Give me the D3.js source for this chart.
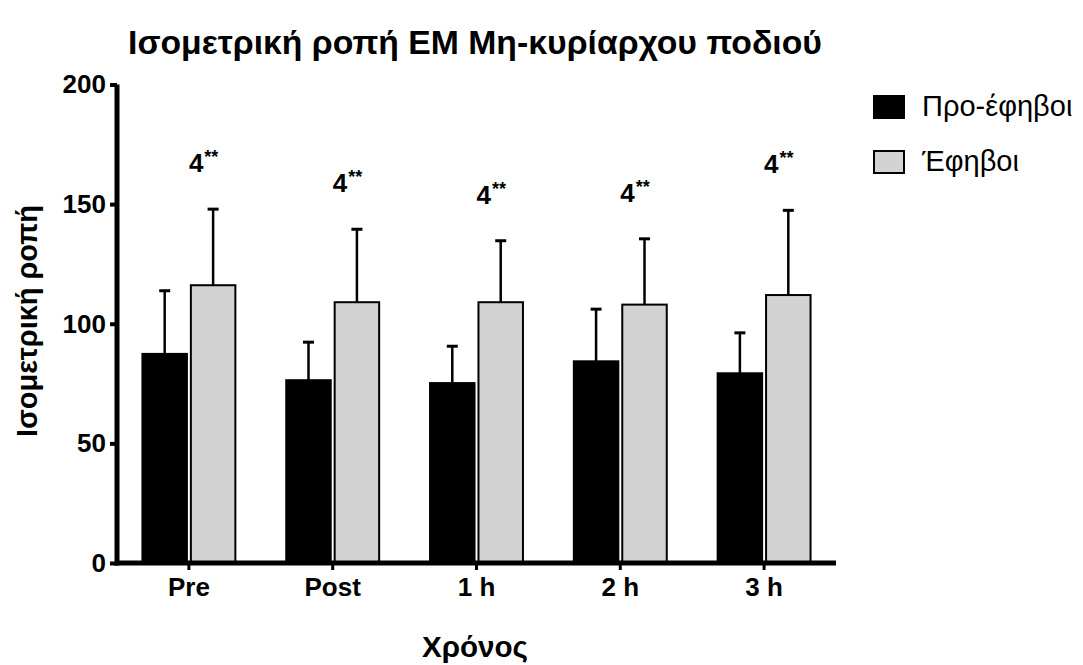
<!DOCTYPE html>
<html>
<head>
<meta charset="utf-8">
<script src="https://cdn.jsdelivr.net/npm/d3@7"></script>
<style>
  body { margin: 0; background: #fff; }
  text { font-family: "Liberation Sans", Arial, sans-serif; }
</style>
</head>
<body>
<svg width="1083" height="665"></svg>
<script>
// chart data
var categories = ["Pre", "Post", "1 h", "2 h", "3 h"];
var seriesNames = ["Προ-έφηβοι", "Έφηβοι"];
var preMeans = [87.4, 76.4, 75.2, 84.3, 79.3];
var preErrors = [26.4, 15.9, 15.4, 21.8, 16.9];
var adoMeans = [116.1, 109.0, 109.0, 108.0, 112.0];
var adoErrors = [31.8, 30.5, 25.7, 27.5, 35.4];
var annotations = ["4", "4", "4", "4", "4"];
var annotationStars = ["**", "**", "**", "**", "**"];
var yTicks = [0, 50, 100, 150, 200];

var titleText = "Ισομετρική ροπή ΕΜ Μη-κυρίαρχου ποδιού";
var yLabelText = "Ισομετρική ροπή";
var xLabelText = "Χρόνος";

let svg = d3.select("svg");
let width = parseInt(svg.attr("width"));
let height = parseInt(svg.attr("height"));

var colors = ["#000000", "#d3d3d3"];

// scales
var x0 = d3.scaleBand()
    .domain(categories)
    .range([117, 836])
    .paddingInner(0.34)
    .paddingOuter(0.17);

var x1 = d3.scaleBand()
    .domain(seriesNames)
    .range([0, x0.bandwidth()])
    .paddingInner(0.04);

var y = d3.scaleLinear()
    .domain([0, 200])
    .range([563, 84.5]);

// build rows for the bars
var rows = [];
categories.forEach(function (c, i) {
    rows.push({cat: c, series: seriesNames[0], mean: preMeans[i], err: preErrors[i], color: colors[0]});
    rows.push({cat: c, series: seriesNames[1], mean: adoMeans[i], err: adoErrors[i], color: colors[1]});
});

// error bars (upper only), drawn before bars so the bar covers the stem
var errG = svg.append("g");
errG.selectAll("line.stem")
    .data(rows)
    .enter()
    .append("line")
    .attr("x1", function (d) { return x0(d.cat) + x1(d.series) + x1.bandwidth() / 2; })
    .attr("x2", function (d) { return x0(d.cat) + x1(d.series) + x1.bandwidth() / 2; })
    .attr("y1", function (d) { return y(d.mean); })
    .attr("y2", function (d) { return y(d.mean + d.err); })
    .style("stroke", "black")
    .style("stroke-width", 2.5);

errG.selectAll("line.cap")
    .data(rows)
    .enter()
    .append("line")
    .attr("x1", function (d) { return x0(d.cat) + x1(d.series) + x1.bandwidth() / 2 - 5.5; })
    .attr("x2", function (d) { return x0(d.cat) + x1(d.series) + x1.bandwidth() / 2 + 5.5; })
    .attr("y1", function (d) { return y(d.mean + d.err); })
    .attr("y2", function (d) { return y(d.mean + d.err); })
    .style("stroke", "black")
    .style("stroke-width", 3);

// bars
svg.append("g")
    .selectAll("rect")
    .data(rows)
    .enter()
    .append("rect")
    .attr("x", function (d) { return x0(d.cat) + x1(d.series) + 1; })
    .attr("y", function (d) { return y(d.mean); })
    .attr("width", x1.bandwidth() - 2)
    .attr("height", function (d) { return y(0) - y(d.mean); })
    .attr("fill", function (d) { return d.color; })
    .style("stroke", "black")
    .style("stroke-width", 2);

// y axis
var yAxis = svg.append("g")
    .attr("transform", "translate(117,0)")
    .call(d3.axisLeft(y).tickValues(yTicks).tickSize(7).tickSizeOuter(0).tickPadding(4));
yAxis.select(".domain").style("stroke-width", 5).attr("d", "M0," + (y(0) + 2.5) + "V" + y(200));
yAxis.selectAll(".tick line").style("stroke-width", 4);
yAxis.selectAll(".tick text")
    .style("font-size", "26px")
    .style("font-weight", "bold")
    .attr("fill", "black");

// x axis
var xAxis = svg.append("g")
    .attr("transform", "translate(0," + y(0) + ")")
    .call(d3.axisBottom(x0).tickSize(7).tickSizeOuter(0).tickPadding(8));
xAxis.select(".domain").style("stroke-width", 5).attr("d", "M115," + 0 + "H836");
xAxis.selectAll(".tick line").style("stroke-width", 3);
xAxis.selectAll(".tick text")
    .style("font-size", "26px")
    .style("font-weight", "bold")
    .attr("fill", "black");

// significance labels above the adolescent error bars
var ann = svg.append("g")
    .selectAll("text")
    .data(categories)
    .enter()
    .append("text")
    .attr("x", function (d) { return x0(d) + x0.bandwidth() / 2; })
    .attr("y", function (d, i) { return y(adoMeans[i] + adoErrors[i]) - 37; })
    .style("font-size", "26px")
    .style("font-weight", "bold");
ann.append("tspan").text(function (d, i) { return annotations[i]; });
ann.append("tspan")
    .attr("dx", 1)
    .attr("dy", -9)
    .style("font-size", "18px")
    .text(function (d, i) { return annotationStars[i]; });

// title
svg.append("text")
    .attr("x", 128)
    .attr("y", 54)
    .attr("textLength", 694)
    .attr("lengthAdjust", "spacingAndGlyphs")
    .style("font-size", "34px")
    .style("font-weight", "bold")
    .text(titleText);

// axis titles
svg.append("text")
    .attr("transform", "translate(37,321) rotate(-90)")
    .attr("text-anchor", "middle")
    .attr("textLength", 232)
    .attr("lengthAdjust", "spacingAndGlyphs")
    .style("font-size", "29px")
    .style("font-weight", "bold")
    .text(yLabelText);

svg.append("text")
    .attr("x", 475)
    .attr("y", 657)
    .attr("text-anchor", "middle")
    .attr("textLength", 106)
    .attr("lengthAdjust", "spacingAndGlyphs")
    .style("font-size", "30px")
    .style("font-weight", "bold")
    .text(xLabelText);

// legend
var legend = svg.append("g")
    .selectAll("g")
    .data(seriesNames)
    .enter()
    .append("g")
    .attr("transform", function (d, i) { return "translate(874," + (96 + i * 55) + ")"; });

legend.append("rect")
    .attr("width", 30)
    .attr("height", 22)
    .attr("fill", function (d, i) { return colors[i]; })
    .style("stroke", "black")
    .style("stroke-width", 2);

legend.append("text")
    .attr("x", 48)
    .attr("y", 20)
    .style("font-size", "29px")
    .text(function (d) { return d; });
</script>
</body>
</html>
